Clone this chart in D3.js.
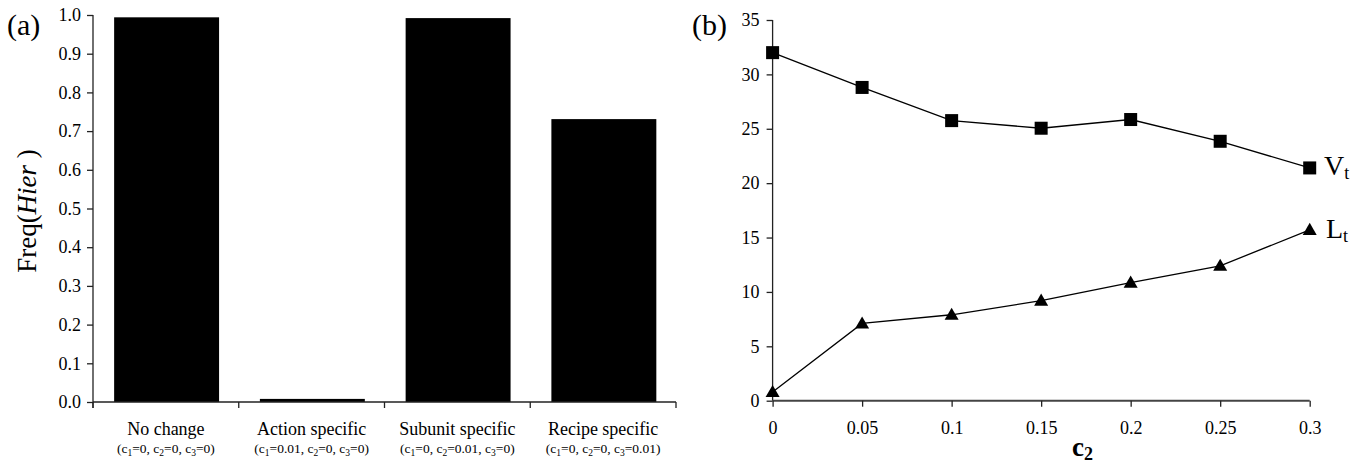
<!DOCTYPE html>
<html>
<head>
<meta charset="utf-8">
<script src="https://cdn.jsdelivr.net/npm/d3@7"></script>
<style>
  html, body { margin: 0; padding: 0; background: #fff; }
  svg, svg text { font-family: "Liberation Serif", "Times New Roman", serif !important; }
  svg { display: block; }
</style>
</head>
<body>
<svg id="chart" width="1363" height="467"></svg>
<script>
// ---------- Data: panel (a) ----------
const categories = ["No change", "Action specific", "Subunit specific", "Recipe specific"];
const categoryParams = [
  ["0", "0", "0"],
  ["0.01", "0", "0"],
  ["0", "0.01", "0"],
  ["0", "0", "0.01"]
];
const freqHier = [0.994, 0.008, 0.992, 0.731];
const yTicksA = [0, 0.1, 0.2, 0.3, 0.4, 0.5, 0.6, 0.7, 0.8, 0.9, 1.0];

// ---------- Data: panel (b) ----------
const c2Values = [0, 0.05, 0.1, 0.15, 0.2, 0.25, 0.3];
const Vt = [32.0, 28.8, 25.75, 25.05, 25.85, 23.85, 21.4];
const Lt = [0.8, 7.1, 7.9, 9.2, 10.85, 12.4, 15.7];
const xTicksB = [0, 0.05, 0.1, 0.15, 0.2, 0.25, 0.3];
const xTickLabelsB = ["0", "0.05", "0.1", "0.15", "0.2", "0.25", "0.3"];
const yTicksB = [0, 5, 10, 15, 20, 25, 30, 35];

const svg = d3.select("#chart");
const axisColor = "#222";
const FONT = "Liberation Serif";

// ================= Panel (a) =================
const xA = d3.scaleBand().domain(categories).range([93, 676]).padding(0);
const yA = d3.scaleLinear().domain([0, 1]).range([402, 15]);

const gA = svg.append("g");

// bars
gA.selectAll("rect.bar").data(categories).enter().append("rect")
  .attr("class", "bar")
  .attr("x", d => xA(d) + xA.bandwidth() * 0.145)
  .attr("width", xA.bandwidth() * 0.72)
  .attr("y", (d, i) => yA(freqHier[i]))
  .attr("height", (d, i) => yA(0) - yA(freqHier[i]))
  .attr("fill", "#000");

// y axis
const yAxisA = d3.axisLeft(yA).tickValues(yTicksA).tickFormat(d3.format(".1f")).tickSize(6).tickPadding(6);
const gyA = gA.append("g").attr("transform", "translate(93,0)").call(yAxisA)
  .attr("font-family", FONT).attr("font-size", 18);
gyA.select(".domain").attr("stroke", axisColor).attr("stroke-width", 1.3).attr("d", `M0,${yA(1)}V${yA(0) + 6}`);
gyA.selectAll(".tick line").attr("stroke", axisColor).attr("stroke-width", 1.3);
gyA.selectAll(".tick text").attr("fill", "#000");

// x axis line + ticks at band boundaries
gA.append("line").attr("x1", 93).attr("x2", 676).attr("y1", yA(0)).attr("y2", yA(0))
  .attr("stroke", axisColor).attr("stroke-width", 1.3);
const boundaries = categories.map(c => xA(c)).concat([xA(categories[categories.length - 1]) + xA.bandwidth()]);
gA.selectAll("line.xtick").data(boundaries).enter().append("line")
  .attr("class", "xtick")
  .attr("x1", d => d).attr("x2", d => d)
  .attr("y1", yA(0)).attr("y2", yA(0) + 6)
  .attr("stroke", axisColor).attr("stroke-width", 1.3);

// category labels
categories.forEach((c, i) => {
  const cx = xA(c) + xA.bandwidth() / 2;
  gA.append("text").attr("x", cx).attr("y", 435).attr("text-anchor", "middle")
    .attr("font-size", 18).text(c);
  const t = gA.append("text").attr("x", cx).attr("y", 453).attr("text-anchor", "middle")
    .attr("font-size", 13.5);
  const p = categoryParams[i];
  t.append("tspan").text("(c");
  t.append("tspan").attr("font-size", 9.5).attr("dy", 3).text("1");
  t.append("tspan").attr("dy", -3).text("=" + p[0] + ", c");
  t.append("tspan").attr("font-size", 9.5).attr("dy", 3).text("2");
  t.append("tspan").attr("dy", -3).text("=" + p[1] + ", c");
  t.append("tspan").attr("font-size", 9.5).attr("dy", 3).text("3");
  t.append("tspan").attr("dy", -3).text("=" + p[2] + ")");
});

// y label
const yl = gA.append("text")
  .attr("transform", "translate(36,211) rotate(-90)")
  .attr("text-anchor", "middle").attr("font-size", 27);
yl.append("tspan").text("Freq(");
yl.append("tspan").attr("font-style", "italic").text("Hier");
yl.append("tspan").text(" )");

// panel letter
gA.append("text").attr("x", 7).attr("y", 35).attr("font-size", 30).text("(a)");

// ================= Panel (b) =================
const xB = d3.scaleLinear().domain([0, 0.3]).range([772.6, 1309.7]);
const yB = d3.scaleLinear().domain([0, 35]).range([400.7, 20]);
const gB = svg.append("g");

// axes
const yAxisB = d3.axisLeft(yB).tickValues(yTicksB).tickFormat(d3.format("d")).tickSize(6).tickPadding(7);
const gyB = gB.append("g").attr("transform", `translate(${xB(0)},0)`).call(yAxisB)
  .attr("font-family", FONT).attr("font-size", 18);
gyB.select(".domain").attr("stroke", axisColor).attr("stroke-width", 1.3).attr("d", `M0,${yB(35)}V${yB(0)}`);
gyB.selectAll(".tick line").attr("stroke", axisColor).attr("stroke-width", 1.3);
gyB.selectAll(".tick text").attr("fill", "#000");

const xAxisB = d3.axisBottom(xB).tickValues(xTicksB).tickFormat((d, i) => xTickLabelsB[i]).tickSize(6).tickPadding(15);
const gxB = gB.append("g").attr("transform", `translate(0,${yB(0)})`).call(xAxisB)
  .attr("font-family", FONT).attr("font-size", 18);
gxB.select(".domain").attr("stroke", "#444").attr("stroke-width", 2).attr("d", `M${xB(0)},0H${xB(0.3)}`);
gxB.selectAll(".tick line").attr("stroke", axisColor).attr("stroke-width", 1.3);
gxB.selectAll(".tick text").attr("fill", "#000");

// lines
const line = d3.line().x((d, i) => xB(c2Values[i])).y(d => yB(d));
gB.append("path").datum(Vt).attr("d", line).attr("fill", "none").attr("stroke", "#000").attr("stroke-width", 1.3);
gB.append("path").datum(Lt).attr("d", line).attr("fill", "none").attr("stroke", "#000").attr("stroke-width", 1.3);

// markers
const sq = 13;
gB.selectAll("rect.vt").data(Vt).enter().append("rect").attr("class", "vt")
  .attr("x", (d, i) => xB(c2Values[i]) - sq / 2)
  .attr("y", d => yB(d) - sq / 2)
  .attr("width", sq).attr("height", sq).attr("fill", "#000");
const tri = d3.symbol().type(d3.symbolTriangle).size(85);
gB.selectAll("path.lt").data(Lt).enter().append("path").attr("class", "lt")
  .attr("d", tri)
  .attr("transform", (d, i) => `translate(${xB(c2Values[i])},${yB(d) + 1})`)
  .attr("fill", "#000");

// series labels
const vtl = gB.append("text").attr("x", 1324).attr("y", 175).attr("font-size", 28);
vtl.append("tspan").text("V");
vtl.append("tspan").attr("font-size", 18).attr("dy", 4).text("t");
const ltl = gB.append("text").attr("x", 1326).attr("y", 238).attr("font-size", 28);
ltl.append("tspan").text("L");
ltl.append("tspan").attr("font-size", 18).attr("dy", 4).text("t");

// x label
const xl = gB.append("text").attr("x", 1072).attr("y", 456).attr("font-size", 27).attr("font-weight", "bold");
xl.append("tspan").text("c");
xl.append("tspan").attr("font-size", 18).attr("dy", 4).text("2");

// panel letter
gB.append("text").attr("x", 692).attr("y", 35).attr("font-size", 30).text("(b)");
</script>
</body>
</html>
